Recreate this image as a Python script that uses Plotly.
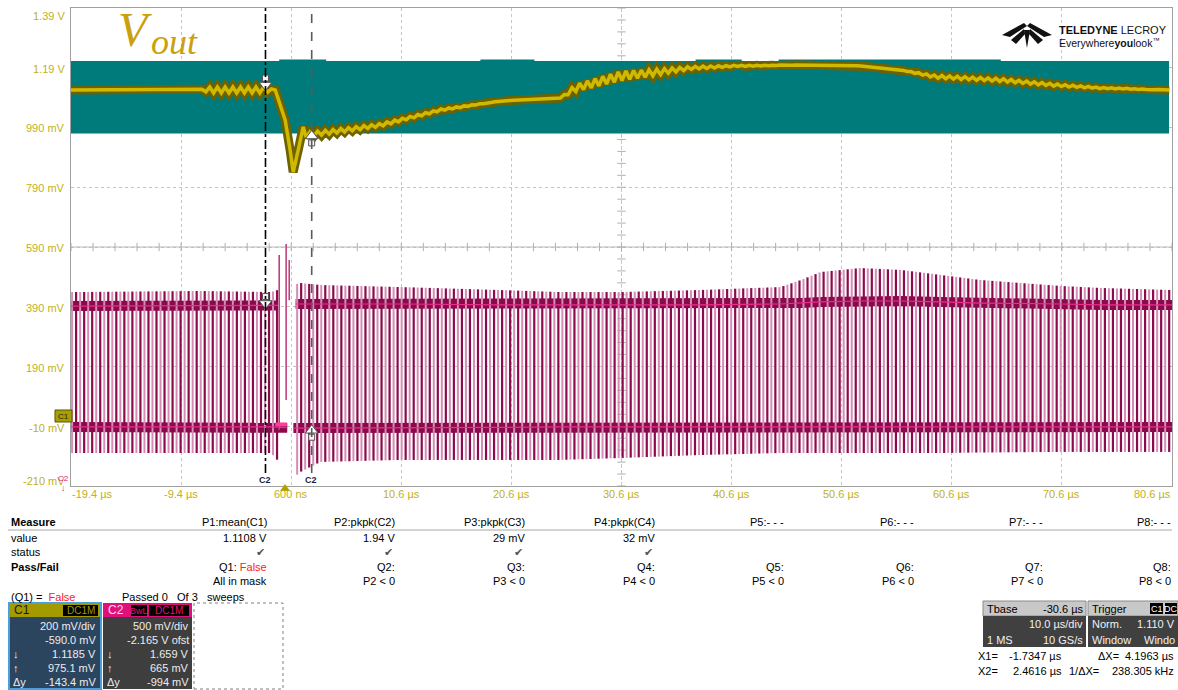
import numpy as np
import plotly.graph_objects as go

# ---------------- values ----------------
x_tick_vals = [-19.4, -9.4, 0.6, 10.6, 20.6, 30.6, 40.6, 50.6, 60.6, 70.6, 80.6]
x_tick_text = ["-19.4 µs", "-9.4 µs", "600 ns", "10.6 µs", "20.6 µs", "30.6 µs",
               "40.6 µs", "50.6 µs", "60.6 µs", "70.6 µs", "80.6 µs"]
y_tick_vals = [1.39, 1.19, 0.99, 0.79, 0.59, 0.39, 0.19, -0.01, -0.21]
y_tick_text = ["1.39 V", "1.19 V", "990 mV", "790 mV", "590 mV", "390 mV",
               "190 mV", "-10 mV", "-210 mV"]

# C1 = Vout : mean level (V) and ripple half amplitude (V) at times (µs)
vout_t = [-19.4, -7.7, -6.8, -1.8, -0.85, 0.05, 0.5, 0.78, 1.24, 1.69, 1.96, 2.42,
          4.15, 8.69, 14.15, 19.6, 25.05, 26.42, 30.5, 33.24, 36.87, 40.96, 46.87,
          51.4, 55.96, 59.14, 65.05, 70.0, 74.15, 80.6]
vout_v = [1.1155, 1.1155, 1.1155, 1.1155, 1.1155, 1.015, 0.915, 0.841, 0.915, 0.992,
          0.965, 0.968, 0.975, 0.998, 1.0486, 1.0787, 1.0888, 1.1222, 1.1624, 1.1724,
          1.1892, 1.1959, 1.1992, 1.1992, 1.1825, 1.160, 1.149, 1.132, 1.122, 1.1155]
vout_ripple = [0.0, 0.0, 0.010, 0.010, 0.0, 0.0, 0.0, 0.0, 0.0, 0.0,
               0.008, 0.008, 0.007, 0.005, 0.003, 0.0, 0.0, 0.012, 0.016, 0.011,
               0.005, 0.002, 0.0, 0.0, 0.0, 0.005, 0.005, 0.004, 0.002, 0.0]
vout_ripple_period = 0.70

# pass/fail mask (C1 volts), stepped top edge
mask_edges_t = [-19.4, -0.49, 3.78, 17.78, 22.69, 37.33, 41.51, 44.87, 65.05, 80.33]
mask_top_v = [1.2126, 1.2176, 1.2126, 1.2176, 1.2126, 1.2176, 1.2126, 1.2176, 1.2126]
mask_bottom_v = [0.970, 0.970, 0.970, 0.970, 0.970, 0.970, 0.970, 0.970, 0.970]

# C2 switching waveform (C2 volts) envelopes at times (µs)
c2_env_t = [-19.4, -7.67, -1.22, 0.78, 1.42, 3.24, 10.5, 19.6, 25.05, 30.5, 37.7,
            45.05, 46.9, 48.7, 52.3, 56.0, 59.6, 63.2, 70.5, 74.2, 80.6]
c2_spike_top = [1.788, 1.797, 1.788, 1.847, 1.864, 1.847, 1.830, 1.805, 1.788, 1.788,
                1.805, 1.830, 1.889, 1.956, 1.989, 1.973, 1.931, 1.889, 1.839, 1.822, 1.805]
c2_level_high = [1.671, 1.671, 1.671, 1.688, 1.688, 1.688, 1.688, 1.680, 1.680, 1.680,
                 1.680, 1.688, 1.696, 1.705, 1.713, 1.713, 1.705, 1.696, 1.688, 1.680, 1.680]
c2_level_low = [0.659, 0.659, 0.659, 0.650, 0.650, 0.650, 0.650, 0.655, 0.659, 0.659,
                0.659, 0.659, 0.659, 0.659, 0.659, 0.659, 0.659, 0.659, 0.659, 0.659, 0.659]
c2_spike_bottom = [0.441, 0.441, 0.441, 0.232, 0.282, 0.366, 0.383, 0.383, 0.383, 0.399,
                   0.424, 0.441, 0.441, 0.441, 0.441, 0.441, 0.441, 0.445, 0.450, 0.450, 0.450]
c2_period = 0.73
c2_stop, c2_resume = -0.6, 0.80          # switching interrupted
c2_high_gap = (-0.6, 1.0)
c2_low_gap = (0.24, 0.80)
c2_tr_t = [-0.49, 0.14, 0.42]             # isolated transient spikes
c2_tr_top = [2.098, 2.190, 2.056]
c2_tr_bot = [0.634, 0.885, 1.720]

cursor_x1, cursor_x2 = -1.7347, 2.4616
c1_cur_dn, c1_cur_up = 1.1185, 0.9751
c2_cur_dn, c2_cur_up = 1.659, 0.665

meas_head = ["P1:mean(C1)", "P2:pkpk(C2)", "P3:pkpk(C3)", "P4:pkpk(C4)",
             "P5:- - -", "P6:- - -", "P7:- - -", "P8:- - -"]
meas_val = ["1.1108 V", "1.94 V", "29 mV", "32 mV"]
meas_q = ["Q1: <span style='color:#ff2020'>False</span>", "Q2:", "Q3:", "Q4:",
          "Q5:", "Q6:", "Q7:", "Q8:"]
meas_cond = ["All in mask", "P2 < 0", "P3 < 0", "P4 < 0", "P5 < 0", "P6 < 0",
             "P7 < 0", "P8 < 0"]
c1_box = ["200 mV/div", "-590.0 mV", "1.1185 V", "975.1 mV", "-143.4 mV"]
c2_box = ["500 mV/div", "-2.165 V ofst", "1.659 V", "665 mV", "-994 mV"]

# ---------------- layout helpers ----------------
W, H = 1178, 690
L, R, T, B = 71, 6, 8, 204
PW, PH = W - L - R, H - T - B
FONT = "Liberation Sans, Arial, sans-serif"
YEL = "#c2b020"


def px(x):
    return (x - L) / PW


def py(y):
    return (H - B - y) / PH


shapes, annos = [], []


def rect(x0, y0, x1, y1, fill=None, line=None, lw=1, dash=None):
    shapes.append(dict(type="rect", xref="paper", yref="paper",
                       x0=px(x0), x1=px(x1), y0=py(y1), y1=py(y0),
                       fillcolor=fill or "rgba(0,0,0,0)",
                       line=dict(color=line or "rgba(0,0,0,0)", width=lw if line else 0,
                                 dash=dash or "solid"),
                       layer="above"))


def text(x, y, s, size=11, color="#000", anchor="left", family=FONT):
    annos.append(dict(xref="paper", yref="paper", x=px(x), y=py(y), text=s,
                      showarrow=False, xanchor=anchor, yanchor="middle",
                      borderpad=0, font=dict(size=size, color=color, family=family)))


def poly(points, fill):
    p = "M " + " L ".join(f"{px(a):.5f},{py(b):.5f}" for a, b in points) + " Z"
    shapes.append(dict(type="path", xref="paper", yref="paper", path=p,
                       fillcolor=fill, line=dict(width=0), layer="above"))


fig = go.Figure()

# centre cross with minor ticks
fig.add_trace(go.Scatter(x=[-19.4, 80.6], y=[0.59, 0.59], mode="lines",
                         line=dict(color="#b8b8b8", width=1), hoverinfo="skip"))
fig.add_trace(go.Scatter(x=[30.6, 30.6], y=[-0.21, 1.39], mode="lines",
                         line=dict(color="#c8c8c8", width=1, dash="dot"), hoverinfo="skip"))
tx = np.arange(-19.4, 80.61, 2.0)
fig.add_trace(go.Scatter(x=tx, y=[0.59] * len(tx), mode="markers", hoverinfo="skip",
                         marker=dict(symbol="line-ns", size=6,
                                     line=dict(color="#b0b0b0", width=1))))
ty = np.arange(-0.21, 1.391, 0.04)
fig.add_trace(go.Scatter(x=[30.6] * len(ty), y=ty, mode="markers", hoverinfo="skip",
                         marker=dict(symbol="line-ew", size=6,
                                     line=dict(color="#b0b0b0", width=1))))

# mask polygon
mx, my = [], []
for i in range(len(mask_top_v)):
    mx += [mask_edges_t[i], mask_edges_t[i + 1]]
    my += [mask_top_v[i], mask_top_v[i]]
for i in reversed(range(len(mask_bottom_v))):
    mx += [mask_edges_t[i + 1], mask_edges_t[i]]
    my += [mask_bottom_v[i], mask_bottom_v[i]]
fig.add_trace(go.Scatter(x=mx, y=my, fill="toself", fillcolor="#007b7b", mode="lines",
                         line=dict(width=0, color="#007b7b"), hoverinfo="skip"))

# Vout trace with switching ripple
half = vout_ripple_period / 2
ts = np.arange(-19.4, 80.6 + 1e-9, half)
sgn = np.where(np.arange(len(ts)) % 2 == 0, 1.0, -1.0)
yv = np.interp(ts, vout_t, vout_v) + sgn * np.interp(ts, vout_t, vout_ripple)
kt = [t for t, r in zip(vout_t, vout_ripple) if r == 0 and -1.0 < t < 1.8]
kv = [v for t, v, r in zip(vout_t, vout_v, vout_ripple) if r == 0 and -1.0 < t < 1.8]
keep = ~((ts > min(kt)) & (ts < max(kt)))
allt = np.concatenate([ts[keep], kt])
allv = np.concatenate([yv[keep], kv])
o = np.argsort(allt)
allt, allv = allt[o], allv[o]
fig.add_trace(go.Scatter(x=allt, y=allv, mode="lines", hoverinfo="skip",
                         line=dict(color="#6e6100", width=9)))
fig.add_trace(go.Scatter(x=allt, y=allv, mode="lines", hoverinfo="skip",
                         line=dict(color="#cfba00", width=3.5)))

# C2 switching waveform
def band(levels, gap):
    xs, ys = [], []
    for t, v in zip(c2_env_t, levels):
        if t < gap[0]:
            xs.append(t); ys.append(v)
    xs.append(gap[0]); ys.append(float(np.interp(gap[0], c2_env_t, levels)))
    xs.append(None); ys.append(None)
    xs.append(gap[1]); ys.append(float(np.interp(gap[1], c2_env_t, levels)))
    for t, v in zip(c2_env_t, levels):
        if t > gap[1]:
            xs.append(t); ys.append(v)
    return xs, ys


hx, hy = band(c2_level_high, c2_high_gap)
lx, ly = band(c2_level_low, c2_low_gap)
DARK, PALE, BRIGHT = "#8a0a4c", "#d48db4", "#e8308a"
fig.add_trace(go.Scatter(x=hx, y=hy, yaxis="y2", mode="lines", hoverinfo="skip",
                         line=dict(color=DARK, width=10)))
fig.add_trace(go.Scatter(x=lx, y=ly, yaxis="y2", mode="lines", hoverinfo="skip",
                         line=dict(color=DARK, width=10)))

et = np.arange(-19.3, 80.6, c2_period / 2)
et = et[(et < c2_stop) | (et > c2_resume)]
etop = np.interp(et, c2_env_t, c2_spike_top)
ebot = np.interp(et, c2_env_t, c2_spike_bottom)
for parity, col, w in [(0, PALE, 2.0), (1, DARK, 2.2)]:
    xs, ys = [], []
    for i in range(len(et)):
        if i % 2 == parity:
            xs += [et[i], et[i], None]
            ys += [ebot[i], etop[i], None]
    fig.add_trace(go.Scatter(x=xs, y=ys, yaxis="y2", mode="lines", hoverinfo="skip",
                             line=dict(color=col, width=w)))
xs, ys = [], []
for t, a, b in zip(c2_tr_t, c2_tr_top, c2_tr_bot):
    xs += [t, t, None]
    ys += [b, a, None]
fig.add_trace(go.Scatter(x=xs, y=ys, yaxis="y2", mode="lines", hoverinfo="skip",
                         line=dict(color="#c0407e", width=1.6)))
fig.add_trace(go.Scatter(x=hx, y=hy, yaxis="y2", mode="lines", hoverinfo="skip",
                         line=dict(color=BRIGHT, width=1.2)))
fig.add_trace(go.Scatter(x=lx, y=ly, yaxis="y2", mode="lines", hoverinfo="skip",
                         line=dict(color=BRIGHT, width=1.2)))
fig.add_trace(go.Scatter(x=[-0.85, 0.2], y=[0.68, 0.68], yaxis="y2", mode="lines",
                         hoverinfo="skip", line=dict(color="#ff3f9c", width=4)))

# cursor arrow markers
C1PX, C2PX = 0.2 / 59.75, 0.5 / 59.75


def arrow(t, v, unit, down, yaxis):
    d = 1 if down else -1
    fig.add_trace(go.Scatter(x=[t], y=[v + d * 11 * unit], yaxis=yaxis, mode="markers",
                             hoverinfo="skip",
                             marker=dict(symbol="square", size=6, color="#f4f4f4",
                                         line=dict(color="#555", width=1))))
    fig.add_trace(go.Scatter(x=[t], y=[v + d * 4 * unit], yaxis=yaxis, mode="markers",
                             hoverinfo="skip",
                             marker=dict(symbol="triangle-down" if down else "triangle-up",
                                         size=11, color="#ffffff",
                                         line=dict(color="#555", width=1))))


arrow(cursor_x1, c1_cur_dn, C1PX, True, "y")
arrow(cursor_x2, c1_cur_up, C1PX, False, "y")
arrow(cursor_x1, c2_cur_dn, C2PX, True, "y2")
arrow(cursor_x2, c2_cur_up, C2PX, False, "y2")

# cursors
shapes.append(dict(type="line", xref="x", yref="paper", x0=cursor_x1, x1=cursor_x1,
                   y0=py(473), y1=1, line=dict(color="#000", width=1.6, dash="dashdot"),
                   layer="above"))
shapes.append(dict(type="line", xref="x", yref="paper", x0=cursor_x2, x1=cursor_x2,
                   y0=py(473), y1=1, line=dict(color="#5a5a5a", width=1.6, dash="dash"),
                   layer="above"))
for cx in (265, 311):
    text(cx, 480, "<b>C2</b>", size=9, color="#1c1c3c", anchor="center")

# axis labels
for v, s in zip(x_tick_vals, x_tick_text):
    xp = L + (v + 19.4) / 100 * PW
    anc = "left" if v == x_tick_vals[0] else ("right" if v == x_tick_vals[-1] else "center")
    text(xp, 494, s, size=11, color=YEL, anchor=anc)
ylab_px = [16, 69, 128, 188, 248, 308, 368, 428, 481]
for yy, s in zip(ylab_px, y_tick_text):
    text(66, yy, s, size=11, color=YEL, anchor="right")

# channel markers on the left / trigger marker
rect(55, 410, 72, 422, fill="#a89e00", line="#5a5400")
text(63.5, 416, "C1", size=8, color="#222", anchor="center")
text(63, 478, "C2", size=8, color="#e0208a", anchor="center")
text(63, 488, "↓", size=9, color="#e0208a", anchor="center")
poly([(280, 491), (290, 491), (285, 484)], "#b0a000")

# Vout label
text(117, 30, "<i>V</i>", size=48, color="#c9a00e",
     family="Liberation Serif, DejaVu Serif, serif")
text(150, 42, "<i>out</i>", size=36, color="#c9a00e",
     family="Liberation Serif, DejaVu Serif, serif")

# Teledyne LeCroy logo
poly([(1002, 35), (1024, 23), (1027, 26), (1010, 37)], "#111")
poly([(1052, 35), (1030, 23), (1027, 26), (1044, 37)], "#111")
poly([(1011, 40), (1024, 29), (1025, 34), (1016, 44)], "#111")
poly([(1043, 40), (1030, 29), (1029, 34), (1038, 44)], "#111")
poly([(1024, 30), (1030, 30), (1027, 48)], "#111")
text(1058, 30, "<b>TELEDYNE</b> LECROY", size=11, color="#111")
text(1058, 42, "Everywhere<b>you</b>look<sup>™</sup>", size=10.5, color="#111")

# measurement table
cols = [268, 396, 526, 656, 785, 915, 1044, 1172]
text(10, 522, "<b>Measure</b>")
shapes.append(dict(type="line", xref="paper", yref="paper", x0=px(8), x1=px(1172),
                   y0=py(530), y1=py(530), line=dict(color="#a8a8a8", width=1)))
for c, s in zip(cols, meas_head):
    text(c, 522, s, anchor="right")
text(10, 538, "value")
for c, s in zip(cols, meas_val):
    text(c, 538, s, anchor="right")
text(10, 552, "status")
for c in cols[:4]:
    text(c - 2, 552, "✔", size=11, color="#555", anchor="right",
         family="DejaVu Sans, sans-serif")
text(10, 567, "<b>Pass/Fail</b>")
for c, s in zip(cols, meas_q):
    text(c, 567, s, anchor="right")
for c, s in zip(cols, meas_cond):
    text(c, 581, s, anchor="right")
text(10, 597, "(Q1) =  <span style='color:#ff2020'>False</span>")
text(121, 597, "Passed 0   Of 3   sweeps")

# channel descriptor boxes
rect(9, 603, 101, 617, fill="#a39a00")
rect(9, 617, 101, 689, fill="#2c455f")
rect(9, 603, 101, 689, line="#4aa0dc", lw=2)
text(13, 610, "C1", size=12, color="#1a1a1a")
rect(63, 605, 98, 616, fill="#000")
text(80.5, 610.5, "DC1M", size=10, color="#a39a00", anchor="center")

rect(103, 603, 192, 617, fill="#e0107a")
rect(103, 617, 192, 689, fill="#3e3e3e")
text(107, 610, "C2", size=12, color="#ffd8ec")
rect(131, 605, 147, 616, fill="#000")
text(139, 610.5, "BwL", size=9, color="#e0107a", anchor="center")
rect(149, 605, 189, 616, fill="#000")
text(169, 610.5, "DC1M", size=10, color="#e0107a", anchor="center")
rect(194, 603, 283, 689, line="#808080", lw=1, dash="dot")

rows = [626, 640, 654, 668, 682]
left_marks = ["", "", "↓", "↑", "Δy"]
for yy, s, m in zip(rows, c1_box, left_marks):
    text(97, yy, s, color="#ececec", anchor="right")
    if m:
        text(12, yy, m, color="#ececec")
for yy, s, m in zip(rows, c2_box, left_marks):
    text(190, yy, s, color="#ececec", anchor="right")
    if m:
        text(106, yy, m, color="#ececec")

# timebase / trigger boxes
rect(983, 601, 1086, 616, fill="#c8c8c8", line="#8a8a8a")
rect(983, 616, 1086, 647, fill="#404040")
text(986, 609, "Tbase")
text(1084, 609, "-30.6 µs", anchor="right")
text(1084, 624, "10.0 µs/div", color="#f0f0f0", anchor="right")
text(986, 640, "1 MS", color="#f0f0f0")
text(1084, 640, "10 GS/s", color="#f0f0f0", anchor="right")
rect(1088, 601, 1178, 616, fill="#c8c8c8", line="#8a8a8a")
rect(1088, 616, 1178, 647, fill="#404040")
text(1091, 609, "Trigger")
rect(1150, 603, 1163, 614, fill="#000")
text(1156.5, 608.5, "C1", size=9, color="#fff", anchor="center")
rect(1165, 603, 1177, 614, fill="#000")
text(1171, 608.5, "DC", size=9, color="#fff", anchor="center")
text(1091, 624, "Norm.", color="#f0f0f0")
text(1176, 624, "1.110 V", color="#f0f0f0", anchor="right")
text(1091, 640, "Window", color="#f0f0f0")
text(1176, 640, "Windo", color="#f0f0f0", anchor="right")

text(977, 656, "X1=")
text(1063, 656, "-1.7347 µs", anchor="right")
text(1097, 656, "ΔX=")
text(1175, 656, "4.1963 µs", anchor="right")
text(977, 671, "X2=")
text(1063, 671, "2.4616 µs", anchor="right")
text(1068, 671, "1/ΔX=")
text(1175, 671, "238.305 kHz", anchor="right")

fig.update_layout(
    width=W, height=H, margin=dict(l=L, r=R, t=T, b=B),
    paper_bgcolor="#ffffff", plot_bgcolor="#ffffff",
    showlegend=False, hovermode=False,
    xaxis=dict(range=[-19.4, 80.6], tickvals=x_tick_vals, showticklabels=False,
               showgrid=True, gridcolor="#c4c4c4", griddash="dot", gridwidth=1,
               zeroline=False, showline=True, linecolor="#a0a0a0", linewidth=1,
               mirror=True, ticks="", fixedrange=True),
    yaxis=dict(range=[-0.21, 1.39], tickvals=y_tick_vals, showticklabels=False,
               showgrid=True, gridcolor="#c4c4c4", griddash="dot", gridwidth=1,
               zeroline=False, showline=True, linecolor="#a0a0a0", linewidth=1,
               mirror=True, ticks="", fixedrange=True),
    yaxis2=dict(range=[0.165, 4.165], overlaying="y", visible=False, fixedrange=True),
    shapes=shapes, annotations=annos,
)
fig.write_html("out.html", config={"displayModeBar": False},
               post_script="document.body.style.margin='0';document.body.style.padding='0';")
